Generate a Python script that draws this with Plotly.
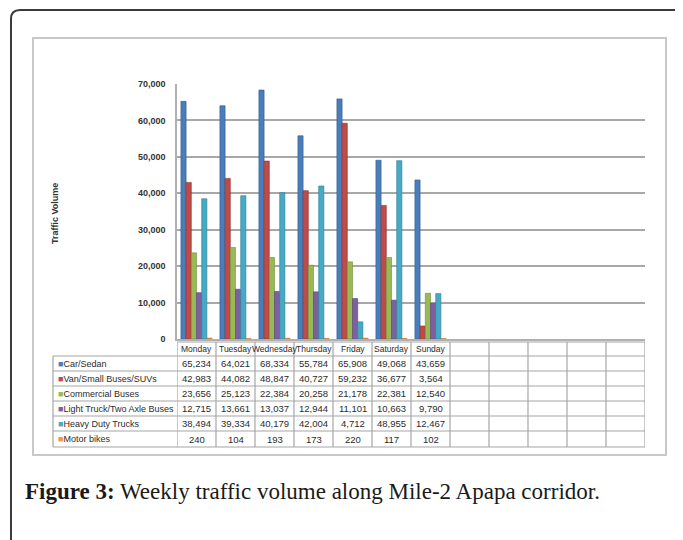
import plotly.graph_objects as go

days = ["Monday", "Tuesday", "Wednesday", "Thursday", "Friday", "Saturday", "Sunday"]
empty_cats = ["e1", "e2", "e3", "e4", "e5"]

series_names = ["Car/Sedan", "Van/Small Buses/SUVs", "Commercial Buses",
                "Light Truck/Two Axle Buses", "Heavy Duty Trucks", "Motor bikes"]
car_sedan = [65234, 64021, 68334, 55784, 65908, 49068, 43659]
van_suv = [42983, 44082, 48847, 40727, 59232, 36677, 3564]
commercial_buses = [23656, 25123, 22384, 20258, 21178, 22381, 12540]
light_truck = [12715, 13661, 13037, 12944, 11101, 10663, 9790]
heavy_trucks = [38494, 39334, 40179, 42004, 4712, 48955, 12467]
motor_bikes = [240, 104, 193, 173, 220, 117, 102]
series_values = [car_sedan, van_suv, commercial_buses, light_truck, heavy_trucks, motor_bikes]

y_ticks = [0, 10000, 20000, 30000, 40000, 50000, 60000, 70000]

colors = ["#4A7EBB", "#BE4B48", "#98B954", "#7D60A0", "#46AAC5", "#F69544"]
edge_colors = ["#2F5A8F", "#8E2F2D", "#6F8C38", "#5A4378", "#2D7F96", "#C46F26"]

PAGE_W, PAGE_H = 683, 540
OFF = 8  # browser default body margin
W, H = PAGE_W - OFF, PAGE_H - OFF
L, R, T, B = 177, 645, 84, 339  # plot area in page pixels


def px(x):
    return (x - L) / (R - L)


def py(y):
    return (B - y) / (B - T)


fig = go.Figure()
for name, vals, c, ec in zip(series_names, series_values, colors, edge_colors):
    fig.add_trace(go.Bar(x=days, y=vals, name=name,
                         marker=dict(color=c, line=dict(color=ec, width=0.6)),
                         showlegend=False))

all_cats = days + empty_cats
ncat = len(all_cats)

shapes = []
annotations = []
grid_col = "#A6A6A6"

# outer rounded border (page frame)
r = 9
x0, y0, x1, y1 = 11, 10, 700, 560
path = (f"M {px(x0)},{py(y1)} L {px(x0)},{py(y0 + r)} "
        f"Q {px(x0)},{py(y0)} {px(x0 + r)},{py(y0)} L {px(x1)},{py(y0)}")
shapes.append(dict(type="path", xref="paper", yref="paper", path=path,
                   line=dict(color="#3A3A3A", width=2), layer="above"))

# chart frame
shapes.append(dict(type="rect", xref="paper", yref="paper",
                   x0=px(33), x1=px(666), y0=py(455), y1=py(38),
                   line=dict(color="#C8C8C8", width=2), layer="below"))

# data table
row_lines = [342, 356, 371, 386, 401, 416, 431, 447]
tbl_left = 53
shapes.append(dict(type="line", xref="x", yref="paper", x0=-0.5, x1=ncat - 0.5,
                   y0=py(row_lines[0]), y1=py(row_lines[0]),
                   line=dict(color=grid_col, width=1.2)))
for yl in row_lines[1:]:
    shapes.append(dict(type="line", xref="paper", yref="paper", x0=px(tbl_left), x1=1,
                       y0=py(yl), y1=py(yl), line=dict(color=grid_col, width=1.2)))
shapes.append(dict(type="line", xref="paper", yref="paper", x0=px(tbl_left), x1=px(tbl_left),
                   y0=py(row_lines[1]), y1=py(row_lines[-1]), line=dict(color=grid_col, width=1.2)))
for i in range(ncat + 1):
    shapes.append(dict(type="line", xref="x", yref="paper", x0=i - 0.5, x1=i - 0.5,
                       y0=py(row_lines[0]), y1=py(row_lines[-1]),
                       line=dict(color=grid_col, width=1.2)))

tfont = dict(family="Liberation Sans, Arial, sans-serif", size=9.5, color="#2B2B2B")
for d in days:
    annotations.append(dict(x=d, xref="x", yref="paper",
                            y=py((row_lines[0] + row_lines[1]) / 2),
                            text=d, showarrow=False, font=dict(tfont, size=8.5),
                            xanchor="center", yanchor="middle"))
for k, (name, vals, c) in enumerate(zip(series_names, series_values, colors)):
    yc = py((row_lines[k + 1] + row_lines[k + 2]) / 2)
    annotations.append(dict(x=px(tbl_left + 3), xref="paper", yref="paper", y=yc,
                            text=f"<span style='color:{c}'>■</span>{name}",
                            showarrow=False, font=dict(tfont, size=9), xanchor="left", yanchor="middle"))
    for d, v in zip(days, vals):
        annotations.append(dict(x=d, xref="x", yref="paper", y=yc,
                                text=f"{v:,}", showarrow=False, font=tfont,
                                xanchor="center", yanchor="middle"))

annotations.append(dict(x=px(55), y=py(213), xref="paper", yref="paper",
                        text="<b>Traffic Volume</b>", textangle=-90, showarrow=False,
                        font=dict(family="Liberation Sans, Arial, sans-serif", size=9, color="#333333"),
                        xanchor="center", yanchor="middle"))

annotations.append(dict(x=px(23), y=py(491), xref="paper", yref="paper",
                        text="<b>Figure 3:</b> Weekly traffic volume along Mile-2 Apapa corridor.",
                        showarrow=False, xanchor="left", yanchor="middle",
                        font=dict(family="Liberation Serif, Times New Roman, serif", size=23,
                                  color="#1A1A1A")))

fig.update_layout(
    width=W, height=H,
    margin=dict(l=L - OFF, r=PAGE_W - R, t=T - OFF, b=PAGE_H - B),
    paper_bgcolor="white", plot_bgcolor="white",
    barmode="group", bargap=0.2, bargroupgap=0.0,
    shapes=shapes, annotations=annotations,
    xaxis=dict(type="category", categoryorder="array", categoryarray=all_cats,
               range=[-0.5, ncat - 0.5], showticklabels=False, ticks="",
               showgrid=False, showline=True, linecolor="#B0B0B0", linewidth=2, zeroline=False),
    yaxis=dict(range=[0, 70000], tickvals=y_ticks, tickformat=",",
               showgrid=True, gridcolor="#A8A8A8", gridwidth=1.5,
               showline=True, linecolor="#B0B0B0", linewidth=1.5, zeroline=False,
               ticks="", ticklen=0, ticklabelstandoff=8,
               tickfont=dict(family="Liberation Sans, Arial, sans-serif", size=9,
                             color="#333333", weight="bold")),
    font=dict(family="Liberation Sans, Arial, sans-serif"),
)

fig.write_html("out.html")
